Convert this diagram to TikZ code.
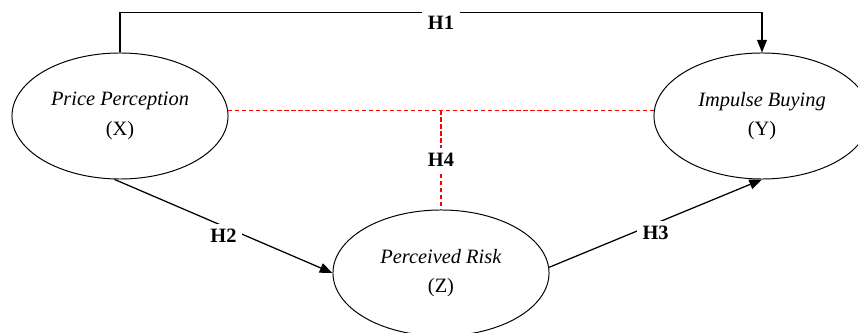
\documentclass[tikz,border=0pt]{standalone}
\usepackage{fontspec}
\setmainfont{Liberation Serif}
\usetikzlibrary{arrows.meta, shapes.geometric, positioning}

\begin{document}
\begin{tikzpicture}[x=0.025cm, y=-0.025cm,
    variabile/.style={ellipse, draw, line width=0.7pt, minimum width=5.4cm, minimum height=3.15cm, align=center, font=\fontsize{14.5}{21}\selectfont},
    ipotesi/.style={fill=white, text=black, inner sep=4pt, font=\fontsize{14.5}{16}\selectfont\bfseries},
    freccia/.style={-{Triangle[length=9pt, width=7pt]}, line width=0.9pt},
    rischio/.style={red, line width=0.85pt, dash pattern=on 3pt off 2pt}]
    \useasboundingbox (0,0) rectangle (858,333);

    % Variabili
    \node[variabile] (X) at (120,116) {\textit{Price Perception}\\(X)};
    \node[variabile] (Y) at (762,116) {\textit{Impulse Buying}\\(Y)};
    \node[variabile] (Z) at (441,273) {\textit{Perceived Risk}\\(Z)};

    % Effetti diretti
    \draw[freccia] (X.north) -- ++(0,-40) -| node[ipotesi, pos=0.25, yshift=-7pt] {H1} (Y.north);
    \draw[freccia] (X.265) -- node[ipotesi, yshift=-7pt] {H2} (Z.west);
    \draw[freccia] (Z.3) -- node[ipotesi, yshift=-7pt] {H3} (Y.south);

    % Moderazione (rossa, tratteggiata)
    \draw[rischio] (X.3) -- coordinate (m) (Y.177);
    \draw[rischio] (m) -- node[ipotesi] {H4} (Z.north);
\end{tikzpicture}
\end{document}
